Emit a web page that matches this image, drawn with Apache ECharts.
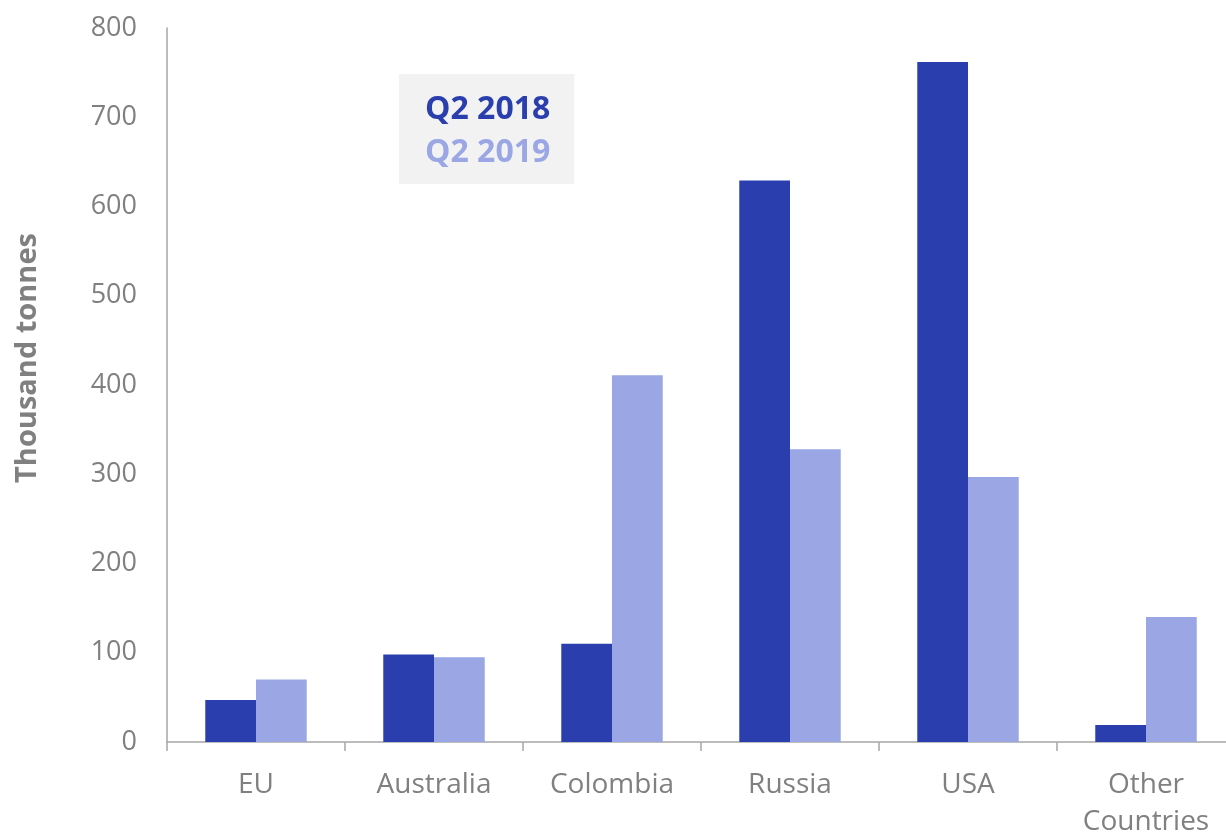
<!DOCTYPE html>
<html>
<head>
<meta charset="utf-8">
<script src="https://cdn.jsdelivr.net/npm/echarts@6/dist/echarts.min.js"></script>
<style>
  html, body { margin: 0; padding: 0; background: #ffffff; }
  #chart { width: 1226px; height: 832px; }
</style>
</head>
<body>
<div id="chart"></div>
<script>
// Imports by origin, thousand tonnes
const categories = ['EU', 'Australia', 'Colombia', 'Russia', 'USA', 'Other\nCountries'];
const seriesNames = ['Q2 2018', 'Q2 2019'];
const q2_2018 = [47, 98, 110, 629, 762, 19];
const q2_2019 = [70, 95, 411, 328, 297, 140];
const yTicks = { min: 0, max: 800, interval: 100 };

const darkBlue = '#2A3EAD';
const lightBlue = '#9AA7E4';
const gray = '#808080';
const axisGray = '#a6a6a6';
const fontFamily = '"Open Sans", "Noto Sans", sans-serif';

const chart = echarts.init(document.getElementById('chart'), null, { renderer: 'canvas' });

chart.setOption({
  backgroundColor: '#ffffff',
  animation: false,
  textStyle: { fontFamily: fontFamily },
  grid: {
    left: 167, top: 28, width: 1068, bottom: 90,
    containLabel: false,
    outerBoundsMode: 'none'
  },
  legend: {
    data: [
      { name: seriesNames[0], textStyle: { color: darkBlue } },
      { name: seriesNames[1], textStyle: { color: lightBlue } }
    ],
    orient: 'vertical',
    left: 399,
    top: 74,
    icon: 'none',
    itemWidth: 0,
    itemHeight: 14,
    itemGap: 3,
    padding: [16, 24, 11, 21],
    backgroundColor: '#f2f2f2',
    textStyle: { fontSize: 32, fontWeight: 'bold', fontFamily: fontFamily, lineHeight: 40 },
    selectedMode: false
  },
  xAxis: {
    type: 'category',
    data: categories,
    axisLine: { show: true, lineStyle: { color: axisGray, width: 1.5 } },
    axisTick: { show: true, length: 9, lineStyle: { color: axisGray, width: 1.5 } },
    axisLabel: { color: gray, fontSize: 28, margin: 25, lineHeight: 37, interval: 0 }
  },
  yAxis: {
    type: 'value',
    min: yTicks.min,
    max: yTicks.max,
    interval: yTicks.interval,
    name: 'Thousand tonnes',
    nameLocation: 'middle',
    nameGap: 125,
    nameTextStyle: {
      color: gray, fontSize: 29, fontWeight: 'bold', fontFamily: fontFamily,
      padding: [0, 0, 0, 54]
    },
    axisLine: { show: true, lineStyle: { color: axisGray, width: 1.5 } },
    axisTick: { show: false },
    splitLine: { show: false },
    axisLabel: { color: gray, fontSize: 27, margin: 30 }
  },
  series: [
    {
      name: seriesNames[0],
      type: 'bar',
      data: q2_2018,
      itemStyle: { color: darkBlue },
      barGap: '0%',
      barCategoryGap: '43%'
    },
    {
      name: seriesNames[1],
      type: 'bar',
      data: q2_2019,
      itemStyle: { color: lightBlue },
      barGap: '0%',
      barCategoryGap: '43%'
    }
  ]
});
</script>
</body>
</html>
